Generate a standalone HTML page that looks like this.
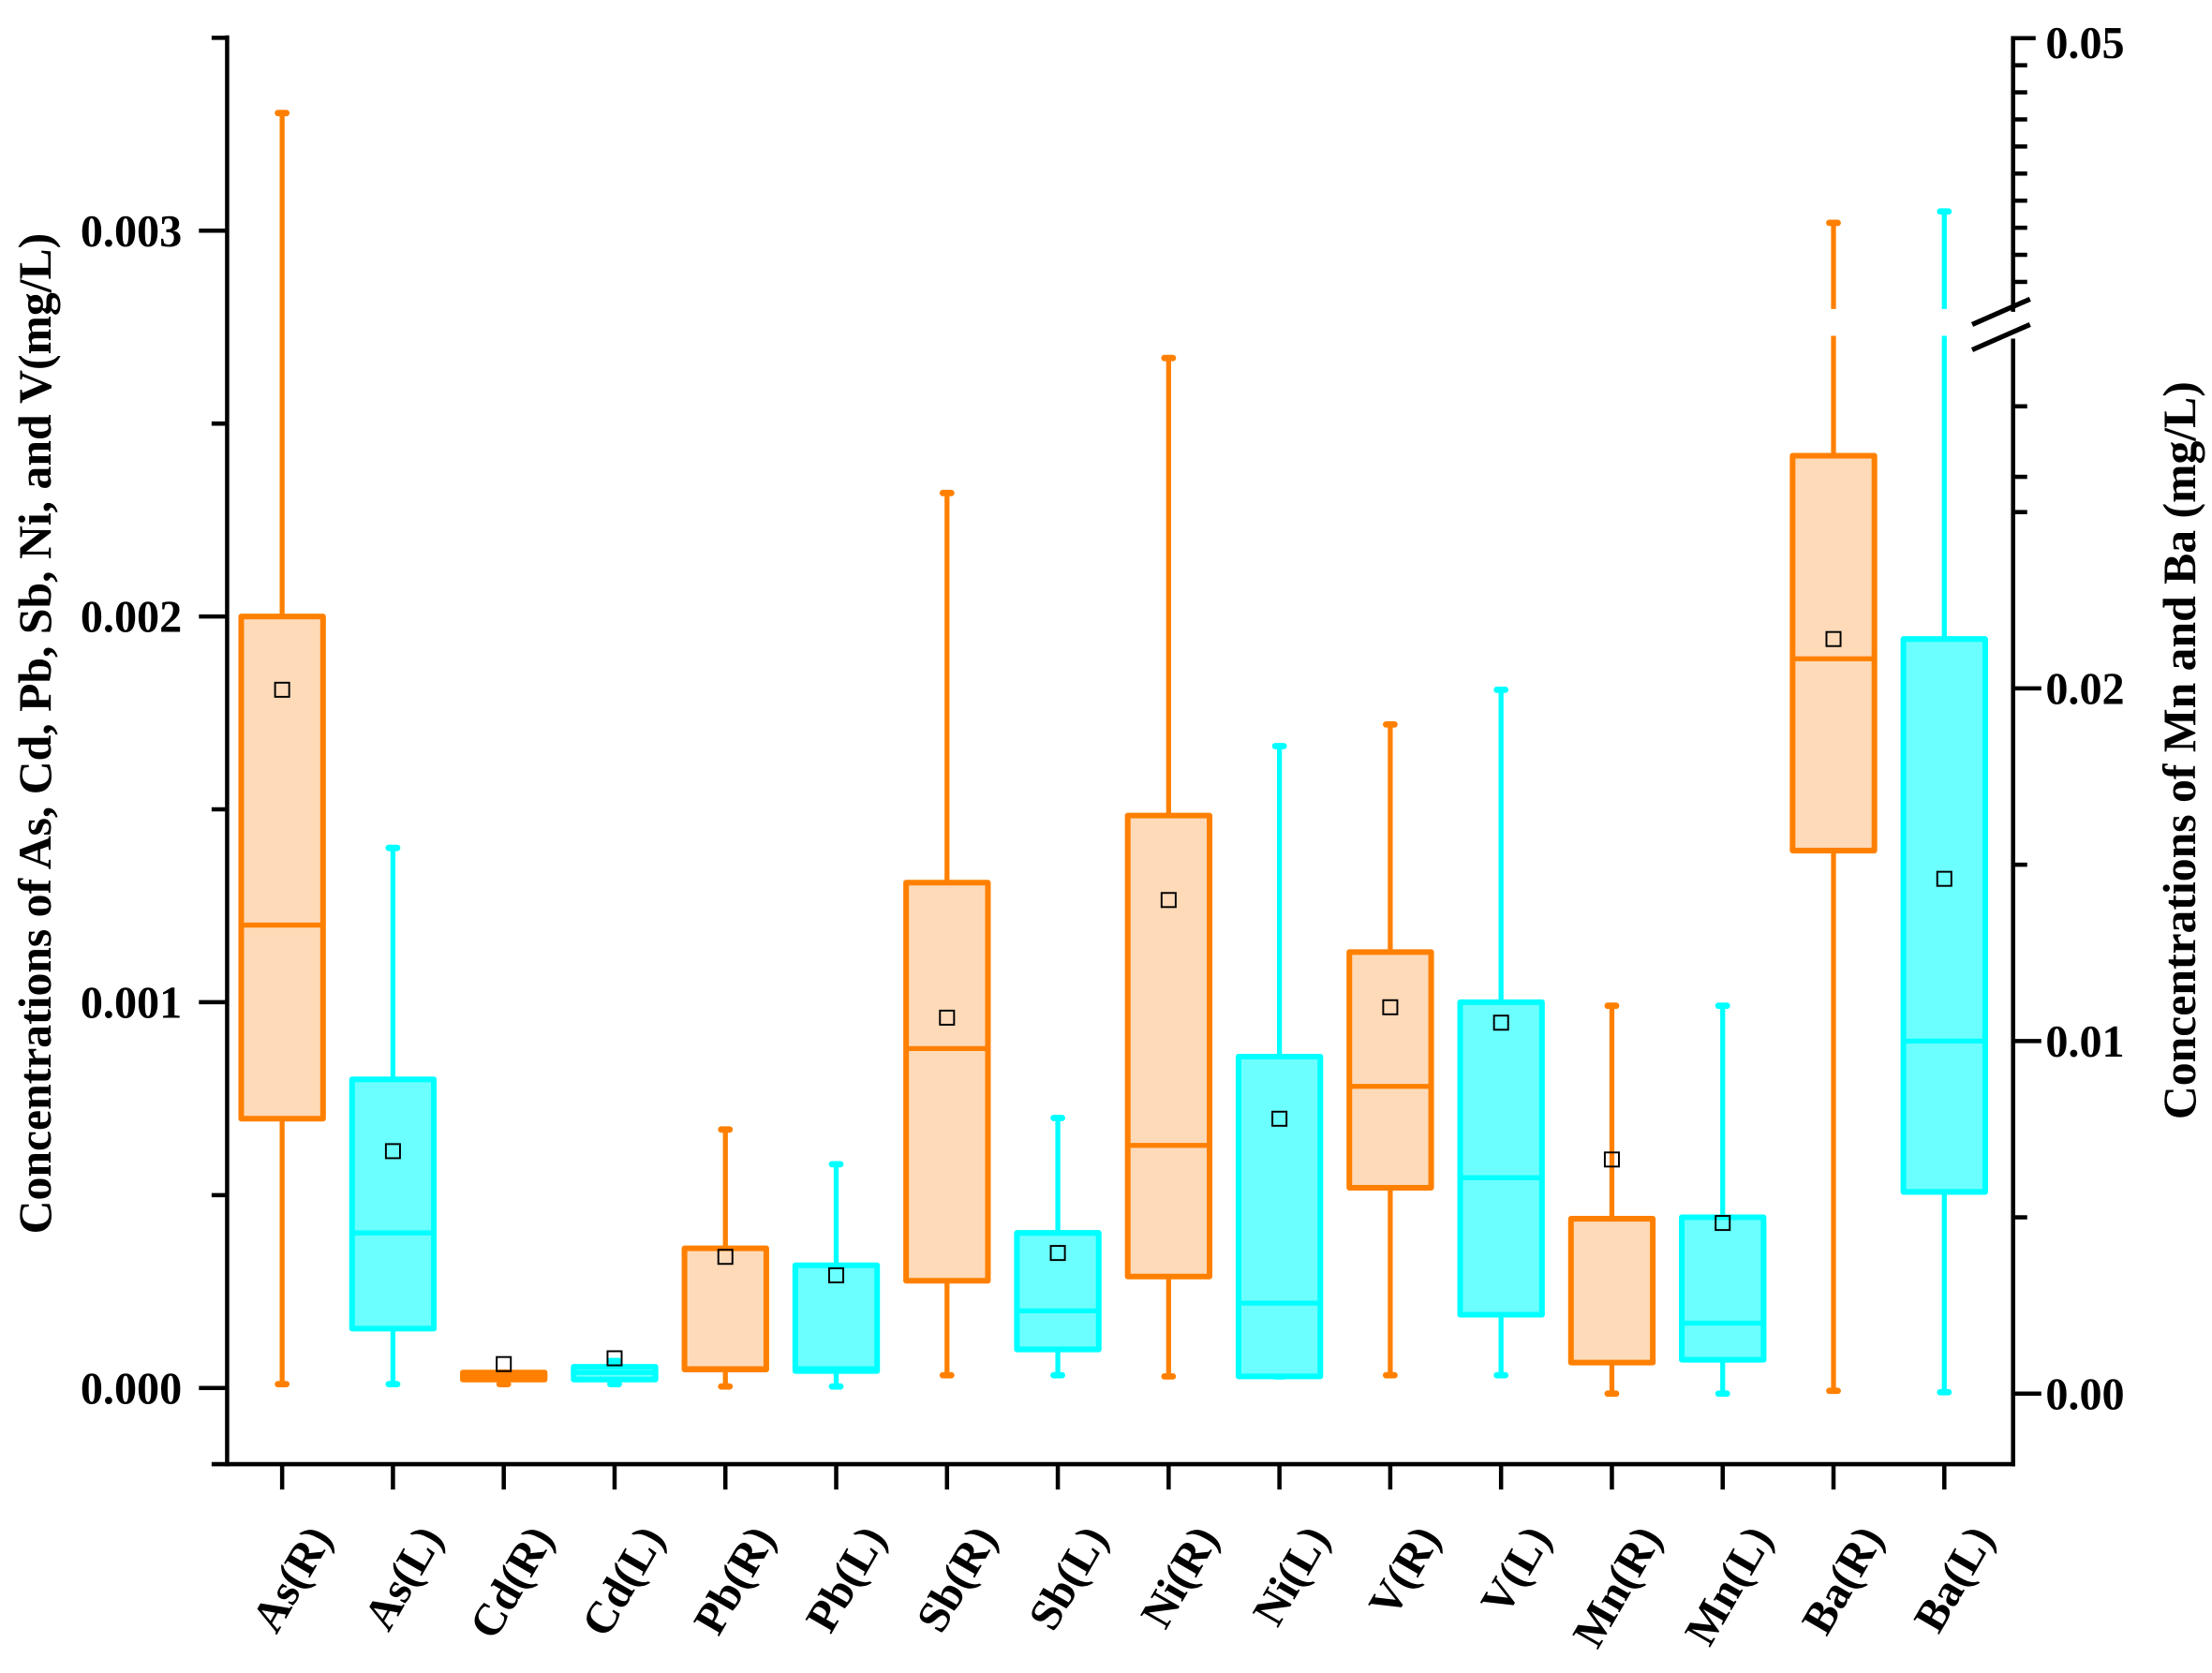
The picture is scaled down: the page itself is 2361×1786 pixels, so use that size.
<!DOCTYPE html>
<html><head><meta charset="utf-8"><style>
html,body{margin:0;padding:0;background:#fff}
svg{display:block}
text{font-family:"Liberation Serif",serif;font-weight:bold;fill:#000}
</style></head><body>
<svg id="chart" width="2361" height="1786" viewBox="0 0 1568 1186" xmlns="http://www.w3.org/2000/svg">
<g id="axes"></g>
<g id="marks"></g>
<text transform="translate(36,520) rotate(-90)" text-anchor="middle" font-size="33">Concentrations of As, Cd, Pb, Sb, Ni, and V(mg/L)</text>
<text transform="translate(1556,532) rotate(-90)" text-anchor="middle" font-size="33">Concentrations of Mn and Ba (mg/L)</text>
</svg>
<script>
const categories=["As(R)","As(L)","Cd(R)","Cd(L)","Pb(R)","Pb(L)","Sb(R)","Sb(L)","Ni(R)","Ni(L)","V(R)","V(L)","Mn(R)","Mn(L)","Ba(R)","Ba(L)"];
const axisSide=["L","L","L","L","L","L","L","L","L","L","L","L","R","R","R","R"];
const whiskerLow=[0.00001,0.00001,0.00001,0.00001,0.000004,0.000004,0.000033,0.000033,0.00003,0.00003,0.000033,0.000033,0,0,0.00008,0.00004];
const q1Values=[0.000698,0.000154,0.000022,0.000022,0.000048,0.000044,0.000278,0.0001,0.000289,0.00003,0.000519,0.00019,0.00088,0.00096,0.0154,0.00572];
const medianValues=[0.0012,0.000402,0.00003,0.00004,0.00005,0.00005,0.00088,0.0002,0.000629,0.00022,0.000782,0.000545,0.00496,0.002,0.02084,0.01];
const q3Values=[0.002,0.0008,0.00004,0.000055,0.000362,0.000318,0.00131,0.000402,0.001484,0.000859,0.00113,0.001,0.00496,0.005,0.0266,0.0214];
const whiskerHigh=[0.003305,0.0014,0.00004,0.00007,0.00067,0.00058,0.00232,0.0007,0.00267,0.001664,0.00172,0.00181,0.011,0.011,0.04318,0.0436];
const meanValues=[0.00181,0.000614,0.000062,0.000077,0.00034,0.000292,0.00096,0.00035,0.001265,0.000698,0.000987,0.000947,0.00664,0.00484,0.0214,0.0146];
const leftTicks=["0.000","0.001","0.002","0.003"];
const rightTicks=["0.00","0.01","0.02"];

const NS="http://www.w3.org/2000/svg";
const X0=200,DX=78.55,BOTTOM=1038,LX=161,RX=1427;
const xOf=i=>X0+i*DX;
const yL=v=>984-v*273500;
const BRK_LO=0.030,BRK_HI=0.040;
const yR=v=>v<=BRK_LO?988-v*25000:219-(v-BRK_HI)*19200;
function el(tag,attrs,parent){const e=document.createElementNS(NS,tag);for(const k in attrs)e.setAttribute(k,attrs[k]);parent.appendChild(e);return e;}
const axes=document.getElementById('axes'),marks=document.getElementById('marks');

// left axis
let a=el('line',{x1:LX,y1:25,x2:LX,y2:BOTTOM+1.5,stroke:'#000','stroke-width':3},axes);


for(let k=-0.5;k<=3.5;k+=0.5){const y=yL(k*0.001);if(y<24||y>BOTTOM-2)continue;const major=Number.isInteger(k)&&k>=0;
 el('line',{x1:major?141:150,y1:y,x2:LX,y2:y,stroke:'#000','stroke-width':3},axes);}
leftTicks.forEach((t,i)=>{const tx=el('text',{x:129,y:yL(i*0.001)+11,'text-anchor':'end','font-size':32},axes);tx.textContent=t;
 
 });

// right axis
let r1=el('line',{x1:RX,y1:BOTTOM+1.5,x2:RX,y2:240,stroke:'#000','stroke-width':3},axes);


let r2=el('line',{x1:RX,y1:221,x2:RX,y2:25.5,stroke:'#000','stroke-width':3},axes);


for(let k=-2;k<=6;k++){const v=k*0.005;if(v>0.0295)break;const y=yR(v);if(y>BOTTOM-2)continue;const major=k%2===0&&k>=0;
 el('line',{x1:RX,y1:y,x2:major?1447:1437,y2:y,stroke:'#000','stroke-width':3},axes);}
for(let k=0;k<2;k++){const v=0.026+k*0.002;el('line',{x1:RX,y1:yR(v),x2:1437,y2:yR(v),stroke:'#000','stroke-width':3},axes);}
for(let k=41;k<=49;k++){const y=yR(k*0.001);el('line',{x1:RX,y1:y,x2:1437,y2:y,stroke:'#000','stroke-width':3},axes);}
el('line',{x1:RX-1.5,y1:yR(0.05),x2:1443,y2:yR(0.05),stroke:'#000','stroke-width':3},axes);
el('line',{x1:1398,y1:230,x2:1439,y2:212,stroke:'#000','stroke-width':3.5},axes);
el('line',{x1:1398,y1:248,x2:1439,y2:230,stroke:'#000','stroke-width':3.5},axes);
rightTicks.forEach((t,i)=>{const tx=el('text',{x:1450,y:yR(i*0.01)+11,'font-size':32},axes);tx.textContent=t;
 
 });
let t5=el('text',{x:1450,y:yR(0.05)+14,'font-size':32},axes);t5.textContent="0.05";



// bottom axis
let b=el('line',{x1:150,y1:BOTTOM,x2:RX+1.5,y2:BOTTOM,stroke:'#000','stroke-width':3},axes);


categories.forEach((c,i)=>{const x=xOf(i);
 el('line',{x1:x,y1:BOTTOM,x2:x,y2:1056,stroke:'#000','stroke-width':3},axes);
 const tx=el('text',{transform:`translate(${x+36},1090) rotate(-60)`,'text-anchor':'end','font-size':32},axes);tx.textContent=c;
 
 });

// boxes
categories.forEach((c,i)=>{
 const ys=axisSide[i]==='L'?yL:yR;
 const orange=i%2===0;const stroke=orange?'#FF8000':'#00FFFF';const fill=orange?'#FFDAB9':'#6CFFFF';
 const g=el('g',{},marks);
 
 
 const x=xOf(i),hw=29;
 const yHi=ys(whiskerHigh[i]),yQ3=ys(q3Values[i]),yQ1=ys(q1Values[i]),yLo=ys(whiskerLow[i]);
 if(axisSide[i]==='R'&&whiskerHigh[i]>BRK_HI){
  el('line',{x1:x,y1:yQ3,x2:x,y2:238,stroke:stroke,'stroke-width':3.5},g);
  el('line',{x1:x,y1:219,x2:x,y2:yHi,stroke:stroke,'stroke-width':3.5},g);
 } else el('line',{x1:x,y1:yQ3,x2:x,y2:yHi,stroke:stroke,'stroke-width':3.5},g);
 el('line',{x1:x,y1:yQ1,x2:x,y2:yLo,stroke:stroke,'stroke-width':3.5},g);
 el('line',{x1:x-3,y1:yHi,x2:x+3,y2:yHi,stroke:stroke,'stroke-width':4.5,'stroke-linecap':'round'},g);
 el('line',{x1:x-3,y1:yLo,x2:x+3,y2:yLo,stroke:stroke,'stroke-width':4.5,'stroke-linecap':'round'},g);
 el('rect',{x:x-hw,y:yQ3,width:2*hw,height:Math.max(yQ1-yQ3,1),fill:fill,stroke:stroke,'stroke-width':4,'stroke-linejoin':'round'},g);
 const ym=ys(medianValues[i]);
 el('line',{x1:x-hw,y1:ym,x2:x+hw,y2:ym,stroke:stroke,'stroke-width':3.5},g);
 const yMean=ys(meanValues[i]);
 el('rect',{x:x-5,y:yMean-5,width:10,height:10,fill:'none',stroke:'#000','stroke-width':1.3},g);
});
</script>
</body></html>
